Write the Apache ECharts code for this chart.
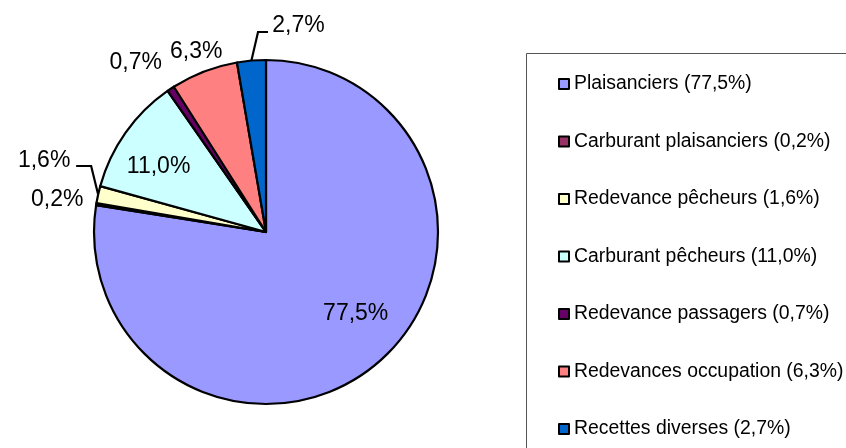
<!DOCTYPE html>
<html><head><meta charset="utf-8">
<script src="https://cdn.jsdelivr.net/npm/echarts@6/dist/echarts.min.js"></script>
<style>html,body{margin:0;padding:0;background:#fff}#c{width:846px;height:448px}</style>
</head><body><div id="c"></div>
<script>
const categories = ['Plaisanciers','Carburant plaisanciers','Redevance pêcheurs','Carburant pêcheurs','Redevance passagers','Redevances occupation','Recettes diverses'];
const values = [77.5, 0.2, 1.6, 11.0, 0.7, 6.3, 2.7];
const colors = ['#9999FF','#993366','#FFFFCC','#CCFFFF','#660066','#FF8080','#0066CC'];

// label placement relative to slice edge anchor (style only)
const labelOffsets = [[-22,-49],[-39,-4],[-54,-34],[33,34],[-35,-26],[-8,-20],[47,-35]];
const leaderLines = {2: [[-7,-28.5],[-22,-28.5]], 6: [[6.6,-28.6],[16.6,-28.6]]};

const fmt = v => v.toFixed(1).replace('.', ',') + '%';

const chart = echarts.init(document.getElementById('c'), null, {renderer:'canvas'});
const data = categories.map((n,i) => ({
  name: n, value: values[i],
  itemStyle: {color: colors[i]},
  labelLine: {lineStyle: {opacity: leaderLines[i] ? 1 : 0}}
}));
chart.setOption({
  animation: false,
  backgroundColor: '#fff',
  graphic: [{type:'rect', shape:{x:526.5, y:53.5, width:400, height:500}, style:{fill:'none', stroke:'#555', lineWidth:1}, z:-1}],
  legend: {
    orient: 'vertical', left: 558, top: 74, padding: 0,
    itemWidth: 10, itemHeight: 10, itemGap: 37.5,
    icon: 'rect',
    itemStyle: {borderColor: '#000', borderWidth: 2},
    textStyle: {fontFamily: 'Liberation Sans', fontSize: 19.4, color: '#000', lineHeight: 20},
    formatter: name => name + ' (' + fmt(values[categories.indexOf(name)]) + ')',
    data: categories
  },
  series: [{
    type: 'pie',
    center: [266, 232], radius: 172,
    startAngle: 90, clockwise: true,
    avoidLabelOverlap: false,
    itemStyle: {borderColor: '#000', borderWidth: 2.2},
    emphasis: {disabled: true},
    label: {show: true, position: 'outside', formatter: p => fmt(p.value),
      fontFamily: 'Liberation Sans', fontSize: 23, color: '#000'},
    labelLine: {show: true, length: 10, length2: 10, lineStyle: {color: '#000', width: 2.2}},
    labelLayout: function (p) {
      const a = p.labelLinePoints && p.labelLinePoints[0];
      if (!a) return {};
      const o = labelOffsets[p.dataIndex];
      const res = {x: a[0] + o[0], y: a[1] + o[1], align: 'center', verticalAlign: 'middle'};
      const ll = leaderLines[p.dataIndex];
      if (ll) res.labelLinePoints = [a, [a[0]+ll[0][0], a[1]+ll[0][1]], [a[0]+ll[1][0], a[1]+ll[1][1]]];
      return res;
    },
    data: data
  }]
});
</script></body></html>
